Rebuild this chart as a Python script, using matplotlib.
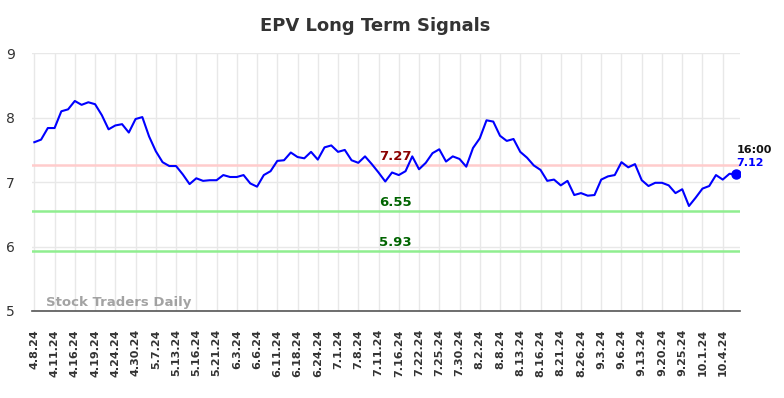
import matplotlib
matplotlib.use("Agg")
import matplotlib.pyplot as plt
import numpy as np

title = "EPV Long Term Signals"
tick_labels = ["4.8.24", "4.11.24", "4.16.24", "4.19.24", "4.24.24", "4.30.24", "5.7.24",
               "5.13.24", "5.16.24", "5.21.24", "6.3.24", "6.6.24", "6.11.24", "6.18.24",
               "6.24.24", "7.1.24", "7.8.24", "7.11.24", "7.16.24", "7.22.24", "7.25.24",
               "7.30.24", "8.2.24", "8.8.24", "8.13.24", "8.16.24", "8.21.24", "8.26.24",
               "9.3.24", "9.6.24", "9.13.24", "9.20.24", "9.25.24", "10.1.24", "10.4.24"]
tick_step = 3

prices = [7.62, 7.66, 7.84, 7.84, 8.10, 8.13, 8.26, 8.20, 8.24, 8.21,
          8.04, 7.82, 7.88, 7.90, 7.77, 7.98, 8.01, 7.71, 7.48, 7.31,
          7.25, 7.25, 7.12, 6.97, 7.06, 7.02, 7.03, 7.03, 7.11, 7.08,
          7.08, 7.11, 6.98, 6.93, 7.11, 7.17, 7.33, 7.34, 7.46, 7.39,
          7.37, 7.47, 7.35, 7.54, 7.57, 7.47, 7.50, 7.34, 7.30, 7.40,
          7.28, 7.15, 7.01, 7.15, 7.11, 7.17, 7.40, 7.20, 7.30, 7.45,
          7.51, 7.32, 7.40, 7.36, 7.24, 7.53, 7.68, 7.96, 7.94, 7.72,
          7.64, 7.67, 7.47, 7.38, 7.26, 7.19, 7.02, 7.04, 6.95, 7.02,
          6.80, 6.83, 6.79, 6.80, 7.04, 7.09, 7.11, 7.31, 7.23, 7.28,
          7.03, 6.94, 6.99, 6.99, 6.95, 6.83, 6.89, 6.63, 6.76, 6.90,
          6.94, 7.11, 7.04, 7.13, 7.12]

resistance = 7.27
supports = [6.55, 5.93]
last_time = "16:00"
last_label = "7.12"

fig = plt.figure(figsize=(7.84, 3.98), dpi=100)
ax = fig.add_axes([31.7/784, (398-311)/398, (740-31.7)/784, (311-53.3)/398])

x = np.arange(len(prices))
ax.plot(x, prices, color="#0000ff", lw=1.5, zorder=3)
ax.plot(x[-1], prices[-1], "o", color="#0000ff", ms=6.5, zorder=4)

ax.axhline(resistance, color="#ffcccc", lw=1.8, zorder=2)
for s in supports:
    ax.axhline(s, color="#90ee90", lw=1.8, zorder=2)

xmid = 53.5
ax.text(xmid, resistance + 0.03, f"{resistance:.2f}", color="#8b0000", fontsize=9.5,
        fontweight="bold", ha="center", va="bottom", zorder=5)
for s in supports:
    ax.text(xmid, s + 0.03, f"{s:.2f}", color="#006400", fontsize=9.5,
            fontweight="bold", ha="center", va="bottom", zorder=5)

ax.annotate(last_time, (x[-1], prices[-1]), xytext=(0, 17.5), textcoords="offset points",
            color="#111111", fontsize=8, fontweight="bold", ha="left", va="center",
            annotation_clip=False)
ax.annotate(last_label, (x[-1], prices[-1]), xytext=(0, 8), textcoords="offset points",
            color="#0000ff", fontsize=8, fontweight="bold", ha="left", va="center",
            annotation_clip=False)

ax.text(1.8, 5.13, "Stock Traders Daily", color="#999999", fontsize=9.5,
        fontweight="bold", ha="left", va="center", alpha=0.9)

ax.set_xlim(-0.39, 104.56)
ax.set_ylim(5, 9)
ticks = np.arange(len(tick_labels)) * tick_step
ax.set_xticks(ticks)
ax.set_xticklabels(tick_labels, rotation=90, fontsize=8, fontweight="bold", color="#333333")
ax.set_yticks([5, 6, 7, 8, 9])
ax.set_yticklabels(["5", "6", "7", "8", "9"], fontsize=10, color="#333333")
ax.tick_params(axis="x", length=0, pad=13)
ax.tick_params(axis="y", length=0, pad=12)
ax.grid(True, color="#e8e8e8", lw=1, zorder=0)
for sp in ["left", "right", "top"]:
    ax.spines[sp].set_visible(False)
ax.spines["bottom"].set_color("#555555")
ax.spines["bottom"].set_linewidth(1.2)

fig.text(375/784, 1 - 26/398, title, fontsize=13, fontweight="bold", color="#333333",
         ha="center", va="center")

fig.savefig("out.png", dpi=100)
